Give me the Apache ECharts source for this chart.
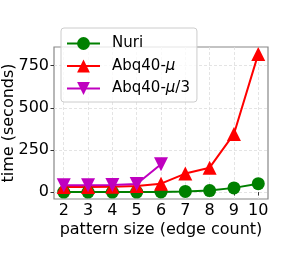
<!DOCTYPE html>
<html><head><meta charset="utf-8">
<script src="https://cdn.jsdelivr.net/npm/echarts@6/dist/echarts.min.js"></script>
<style>html,body{margin:0;padding:0;background:#fff}#c{width:287px;height:268px}</style>
</head><body><div id="c"></div>
<script>
const sizes = [2, 3, 4, 5, 6, 7, 8, 9, 10];
const nuri = [0, 0, 0, 0, 1, 4, 9, 25, 50];
const abqMu = [30, 30, 31, 36, 50, 110, 145, 345, 820];
const abqMu3 = [40, 40, 42, 48, 165];
const yTicks = [0, 250, 500, 750];

const pairs = (xs, ys) => ys.map((v, i) => [xs[i], v]);
const font = 'DejaVu Sans';
const chart = echarts.init(document.getElementById('c'), null, {renderer: 'canvas'});
chart.setOption({
  animation: false,
  textStyle: {fontFamily: font},
  grid: {left: 54, right: 19, top: 47, bottom: 69, outerBoundsMode: 'none', containLabel: false,
         show: true, borderColor: '#888', borderWidth: 1.2, backgroundColor: 'transparent'},
  legend: {
    orient: 'vertical', left: 61, top: 28,
    itemWidth: 33, itemHeight: 16, itemGap: 7.5,
    padding: [8, 7, 6, 5],
    backgroundColor: 'rgba(255,255,255,0.8)', borderColor: '#ccc', borderWidth: 1, borderRadius: 3,
    textStyle: {fontFamily: font, fontSize: 15, color: '#000', padding: [0, 0, 0, 7],
      rich: {i: {fontFamily: font, fontSize: 15, fontStyle: 'italic', color: '#000'}}},
    formatter: n => n === 'Nuri' ? 'Nuri' : (n === 'Abq40-mu' ? 'Abq40-{i|μ}' : 'Abq40-{i|μ}/3'),
    data: ['Nuri', 'Abq40-mu', 'Abq40-mu3']
  },
  xAxis: {
    type: 'value', min: 1.6, max: 10.4,
    name: 'pattern size (edge count)', nameLocation: 'middle', nameGap: 23, nameMoveOverlap: false,
    nameTextStyle: {fontFamily: font, fontSize: 16, color: '#000'},
    axisLine: {show: false},
    axisTick: {show: true, length: 3.5, inside: false, customValues: sizes, lineStyle: {color: '#333'}},
    axisLabel: {customValues: sizes, fontFamily: font, fontSize: 16, color: '#000', margin: 4},
    splitLine: {show: true, lineStyle: {color: '#ddd', type: [3, 2], width: 0.8}}
  },
  yAxis: {
    type: 'value', min: -41, max: 861,
    name: 'time (seconds)', nameLocation: 'middle', nameGap: 37, nameMoveOverlap: false,
    nameTextStyle: {fontFamily: font, fontSize: 16, color: '#000'},
    axisLine: {show: false},
    axisTick: {show: true, length: 3.5, customValues: yTicks, lineStyle: {color: '#333'}},
    axisLabel: {customValues: yTicks, fontFamily: font, fontSize: 16, color: '#000', margin: 5},
    splitLine: {show: true, lineStyle: {color: '#ddd', type: [3, 2], width: 0.8}}
  },
  series: [
    {name: 'Nuri', type: 'line', data: pairs(sizes, nuri), symbol: 'circle', symbolSize: 13,
     lineStyle: {color: '#008000', width: 2}, itemStyle: {color: '#008000'}},
    {name: 'Abq40-mu', type: 'line', data: pairs(sizes, abqMu), symbol: 'triangle', symbolSize: 14,
     lineStyle: {color: '#ff0000', width: 2}, itemStyle: {color: '#ff0000'}},
    {name: 'Abq40-mu3', type: 'line', data: pairs(sizes, abqMu3), symbol: 'triangle', symbolRotate: 180, symbolSize: 14,
     lineStyle: {color: '#bf00bf', width: 2}, itemStyle: {color: '#bf00bf'}}
  ]
});
</script></body></html>
